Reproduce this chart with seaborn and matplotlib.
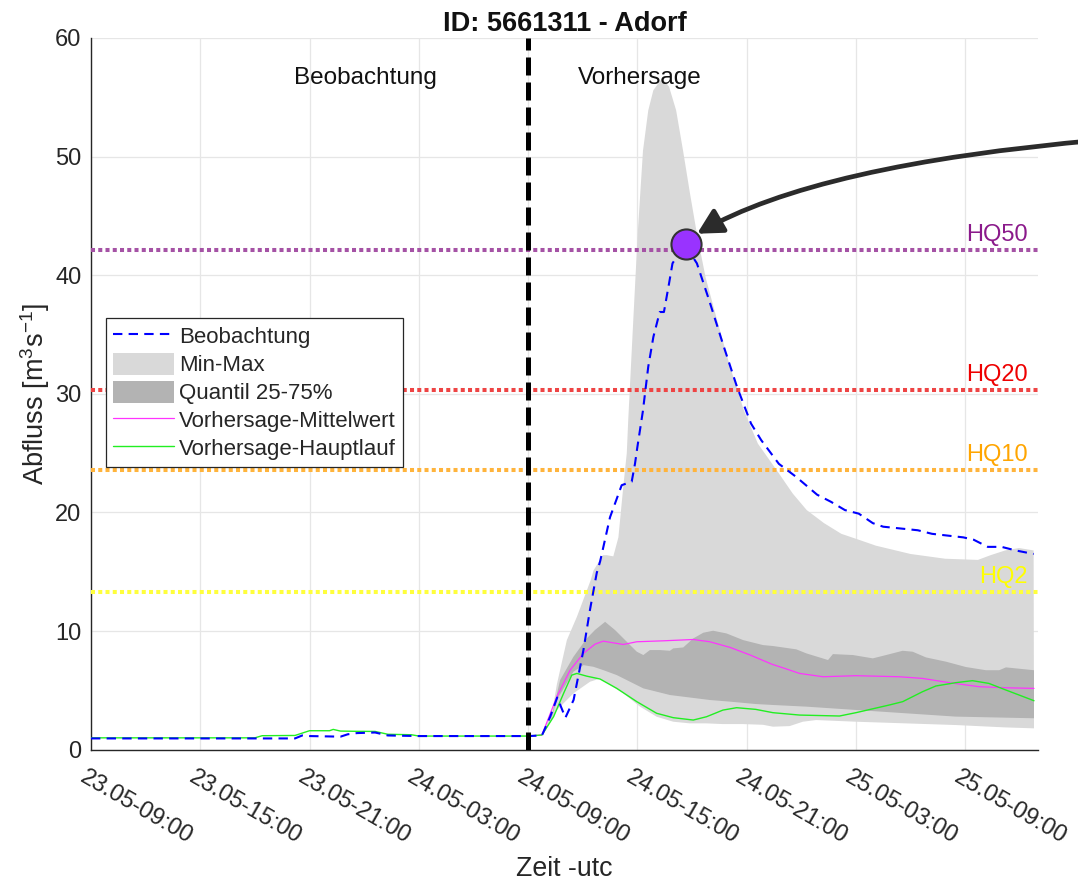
import numpy as np
import matplotlib
matplotlib.use("Agg")
import matplotlib.pyplot as plt
import matplotlib.transforms as mtrans
import seaborn as sns
from matplotlib.lines import Line2D
from matplotlib.patches import Patch

# ---------------- data (hours since 23.05-09:00, discharge m3/s) ----------------
tick_hours = [0, 6, 12, 18, 24, 30, 36, 42, 48]
tick_labels = ["23.05-09:00", "23.05-15:00", "23.05-21:00", "24.05-03:00", "24.05-09:00",
               "24.05-15:00", "24.05-21:00", "25.05-03:00", "25.05-09:00"]
forecast_start = 24.0

obs_t = [0, 11.2, 11.6, 12.0, 13.7, 14.1, 14.6, 15.6, 16.3, 18.0, 24.0, 24.76, 25.22, 25.6,
         26.05, 26.5, 27.04, 27.4, 27.77, 27.96, 28.5, 29.14, 29.69, 29.87, 30.0, 30.3, 30.6,
         30.88, 31.23, 31.46, 31.74, 31.93, 32.6, 33.27, 33.94, 34.7, 35.47, 36.24, 36.8,
         37.77, 38.72, 39.87, 40.63, 41.4, 42.16, 42.93, 43.5, 45.4, 46.18, 47.9, 48.47,
         49.24, 50.0, 50.77, 51.76]
obs_q = [0.95, 0.95, 1.2, 1.15, 1.1, 1.3, 1.4, 1.45, 1.2, 1.15, 1.15, 1.2, 2.8, 4.4,
         2.7, 4.2, 8.4, 11.8, 14.9, 15.9, 19.6, 22.3, 22.6, 24.1, 25.5, 28.5, 32.3,
         34.8, 36.9, 36.9, 39.3, 41.0, 42.6, 41.0, 37.9, 34.2, 30.6, 27.5, 26.1,
         24.1, 23.0, 21.5, 20.9, 20.2, 19.9, 19.1, 18.8, 18.5, 18.2, 17.9, 17.7,
         17.1, 17.1, 16.8, 16.5]

main_t = [0, 9.0, 9.4, 11.2, 12.0, 13.1, 13.3, 13.7, 14.6, 15.6, 16.3, 17.6, 18.0, 24.0,
          24.76, 25.4, 25.95, 26.4, 26.68, 27.22, 27.95, 28.87, 29.97, 31.06, 31.97, 33.07,
          33.8, 34.7, 35.45, 36.5, 37.45, 38.91, 41.1, 42.0, 43.84, 44.57, 45.66, 46.39,
          47.48, 48.4, 49.3, 50.24, 51.78]
main_q = [1.0, 1.0, 1.18, 1.2, 1.6, 1.6, 1.71, 1.57, 1.55, 1.54, 1.3, 1.26, 1.15, 1.15,
          1.24, 2.78, 4.75, 6.29, 6.43, 6.2, 5.96, 5.17, 4.05, 3.07, 2.7, 2.5,
          2.78, 3.34, 3.54, 3.4, 3.12, 2.92, 2.84, 3.12, 3.77, 4.05, 4.89, 5.37,
          5.65, 5.82, 5.59, 5.03, 4.13]

mean_t = [24.0, 24.76, 25.58, 26.31, 27.04, 27.68, 28.13, 28.68, 29.23, 29.97, 31.43, 33.07,
          33.98, 35.1, 36.2, 37.4, 38.0, 38.91, 40.2, 42.0, 44.38, 45.66, 47.13, 48.77,
          50.24, 51.78]
mean_q = [1.15, 1.24, 4.47, 6.71, 8.12, 8.9, 9.15, 9.01, 8.87, 9.1, 9.18, 9.29,
          9.1, 8.62, 7.98, 7.2, 6.9, 6.43, 6.15, 6.24, 6.15, 6.01, 5.65, 5.31,
          5.22, 5.17]

max_t = [24.0, 24.76, 25.34, 25.58, 26.13, 26.68, 27.44, 27.59, 28.11, 28.32, 28.68, 28.96,
         29.23, 29.42, 29.5, 29.74, 30.02, 30.31, 30.6, 30.88, 31.36, 31.74, 32.13, 32.51,
         32.89, 33.27, 33.75, 34.33, 35.09, 35.85, 36.62, 37.77, 38.53, 39.3, 40.25, 41.2,
         42.16, 43.1, 45.0, 46.9, 48.7, 49.4, 50.2, 50.96, 51.76]
max_q = [1.15, 1.25, 3.3, 5.5, 9.24, 11.2, 14.3, 15.1, 16.4, 16.4, 16.3, 17.9,
         22.2, 25.0, 27.8, 35.1, 43.5, 50.5, 53.9, 55.6, 56.6, 55.9, 53.9, 50.5,
         46.9, 43.5, 39.8, 36.5, 32.3, 28.6, 25.8, 23.3, 21.6, 20.2, 19.1, 18.2,
         17.7, 17.2, 16.5, 16.1, 16.0, 16.4, 16.8, 17.0, 16.8]
min_t = [24.0, 24.76, 25.0, 25.58, 26.49, 27.4, 27.95, 28.5, 29.23, 30.15, 31.06, 31.97,
         32.88, 33.8, 34.7, 35.8, 36.9, 37.45, 38.36, 39.09, 39.82, 42.0, 44.74, 47.48,
         50.2, 51.78]
min_q = [1.15, 1.2, 1.7, 3.34, 4.75, 5.73, 6.0, 5.45, 4.75, 3.63, 2.78, 2.36,
         2.22, 2.22, 2.16, 2.16, 2.1, 1.94, 1.99, 2.36, 2.5, 2.36, 2.22, 2.08,
         1.88, 1.8]

q75_t = [25.2, 25.76, 26.49, 27.22, 27.68, 28.23, 28.78, 29.42, 29.97, 30.33, 30.69, 31.24,
         31.79, 31.97, 32.52, 33.07, 33.62, 34.16, 34.9, 35.81, 36.9, 37.45, 38.73, 39.28,
         40.47, 40.74, 41.84, 42.93, 43.66, 44.57, 45.12, 45.85, 46.95, 48.04, 49.14, 49.87,
         50.24, 51.78]
q75_q = [2.2, 5.87, 7.83, 9.38, 10.1, 10.78, 10.08, 9.1, 8.26, 7.98, 8.4, 8.4,
         8.34, 8.54, 8.62, 9.38, 9.86, 10.03, 9.8, 9.24, 8.82, 8.74, 8.46, 8.12,
         7.56, 8.06, 7.98, 7.7, 7.98, 8.34, 8.26, 7.78, 7.42, 6.97, 6.7, 6.7,
         6.94, 6.7]
q25_t = [25.2, 25.58, 26.49, 27.04, 27.59, 28.13, 28.87, 29.6, 30.33, 31.06, 31.79, 32.52,
         33.25, 33.98, 35.1, 36.5, 37.45, 39.28, 42.0, 44.74, 47.48, 51.78]
q25_q = [2.2, 4.19, 6.57, 7.13, 6.99, 6.71, 6.29, 5.73, 5.17, 4.89, 4.61, 4.47,
         4.33, 4.19, 4.05, 3.85, 3.77, 3.63, 3.35, 3.07, 2.79, 2.65]

hq_names = ["HQ50", "HQ20", "HQ10", "HQ2"]
hq_values = [42.1, 30.3, 23.55, 13.3]
hq_line_colors = ["#a552a5", "#ee4444", "#ffb43c", "#ffff3c"]
hq_text_colors = ["#8b1a8b", "#ee0000", "#ffa500", "#ffff00"]

peak_t = [32.65]
peak_q = [42.6]

# ---------------- figure ----------------
sns.set_style("white")
plt.rcParams['font.family'] = ['Liberation Sans', 'DejaVu Sans']
plt.rcParams['mathtext.default'] = 'regular'

W, H = 1078, 883
fig = plt.figure(figsize=(W / 100, H / 100), dpi=100)
ax = fig.add_axes([91 / W, 1 - 749.7 / H, (1038 - 91) / W, (749.7 - 38) / H])

ax.set_xlim(0, 52)
ax.set_ylim(0, 60)
ax.set_axisbelow(True)
ax.grid(True, color="#e6e6e6", lw=0.9)

# bands
ax.fill(np.r_[max_t, min_t[::-1]], np.r_[max_q, min_q[::-1]], color="#d9d9d9", lw=0, zorder=1)
ax.fill(np.r_[q75_t, q25_t[::-1]], np.r_[q75_q, q25_q[::-1]], color="#b3b3b3", lw=0, zorder=2)

# flood thresholds
for name, val, lc, tc in zip(hq_names, hq_values, hq_line_colors, hq_text_colors):
    ax.axhline(val, color=lc, lw=2.9, linestyle=(0, (1, 0.8)), zorder=3)
    ax.text(51.45, val + 0.75, name, color=tc, fontsize=17, ha="right", va="baseline", zorder=6)

# lines
sns.lineplot(x=mean_t, y=mean_q, ax=ax, color="#ff33ff", lw=0.9, zorder=4, sort=False)
sns.lineplot(x=main_t, y=main_q, ax=ax, color="#22ee22", lw=1.0, zorder=4, sort=False)
sns.lineplot(x=obs_t, y=obs_q, ax=ax, color="#0000ff", lw=1.5, zorder=5, sort=False,
             linestyle=(0, (4.5, 3)))

ax.axvline(forecast_start, color="black", lw=3.6, linestyle=(0, (3.6, 1.4)), zorder=5)

sns.scatterplot(x=peak_t, y=peak_q, ax=ax, s=470, color="#9933ff", edgecolor="#333333",
                linewidth=1.5, zorder=8)

ax.annotate("", xy=(33.28, 43.5), xycoords="data", xytext=(1100, H - 140),
            textcoords="figure pixels", annotation_clip=False,
            arrowprops=dict(arrowstyle="-|>,head_length=0.75,head_width=0.4", color="#2b2b2b",
                            lw=3.4, mutation_scale=20, shrinkA=0, shrinkB=0,
                            connectionstyle="angle3,angleA=5,angleB=30"),
            zorder=9)

ax.text(15.05, 56.1, "Beobachtung", fontsize=17.5, ha="center", va="baseline", color="#111111")
ax.text(30.15, 56.1, "Vorhersage", fontsize=17.5, ha="center", va="baseline", color="#111111")

# axes styling
for s in ["top", "right"]:
    ax.spines[s].set_visible(False)
for s in ["left", "bottom"]:
    ax.spines[s].set_color("#262626")
    ax.spines[s].set_linewidth(1.0)

ax.set_yticks(range(0, 61, 10))
ax.set_xticks(tick_hours)
ax.set_xticklabels(tick_labels, rotation=-30, ha="left", va="top", rotation_mode="anchor")
ax.tick_params(axis="both", direction="in", length=7, width=1, color="#262626",
               labelsize=17, labelcolor="#262626")
ax.tick_params(axis="y", pad=7)
ax.tick_params(axis="x", pad=12)
offset = mtrans.ScaledTranslation(-4 / 100, 0, fig.dpi_scale_trans)
for lbl in ax.get_xticklabels():
    lbl.set_transform(lbl.get_transform() + offset)

ax.set_ylabel("Abfluss [m$^3$s$^{-1}$]", fontsize=19.5, color="#262626")
ax.yaxis.label.set_va("center")
ax.yaxis.set_label_coords((35 - 91) / 947, 0.5)
ax.set_xlabel("Zeit -utc", fontsize=19.3, color="#262626")
ax.xaxis.label.set_va("center")
ax.xaxis.set_label_coords(0.5, (749.7 - 869) / 711.7)
ax.set_title("ID: 5661311 - Adorf", fontsize=19.5, fontweight="bold", pad=5, color="#111111")

handles = [
    Line2D([], [], color="#0000ff", lw=1.5, linestyle=(0, (4.5, 3))),
    Patch(facecolor="#d9d9d9", edgecolor="none"),
    Patch(facecolor="#b3b3b3", edgecolor="none"),
    Line2D([], [], color="#ff33ff", lw=0.9),
    Line2D([], [], color="#22ee22", lw=1.0),
]
labels = ["Beobachtung", "Min-Max", "Quantil 25-75%", "Vorhersage-Mittelwert", "Vorhersage-Hauptlauf"]
leg = ax.legend(handles, labels, loc="upper left", bbox_to_anchor=((106 - 91) / 947, (749.7 - 318) / 711.7),
                borderaxespad=0, fontsize=16, frameon=True, fancybox=False, framealpha=1,
                edgecolor="#262626", handlelength=2.75, handletextpad=0.25, borderpad=0.3,
                labelspacing=0.2, handleheight=1.15)
leg.get_frame().set_linewidth(0.9)
leg.set_zorder(10)

fig.savefig("out.png", dpi=100)
